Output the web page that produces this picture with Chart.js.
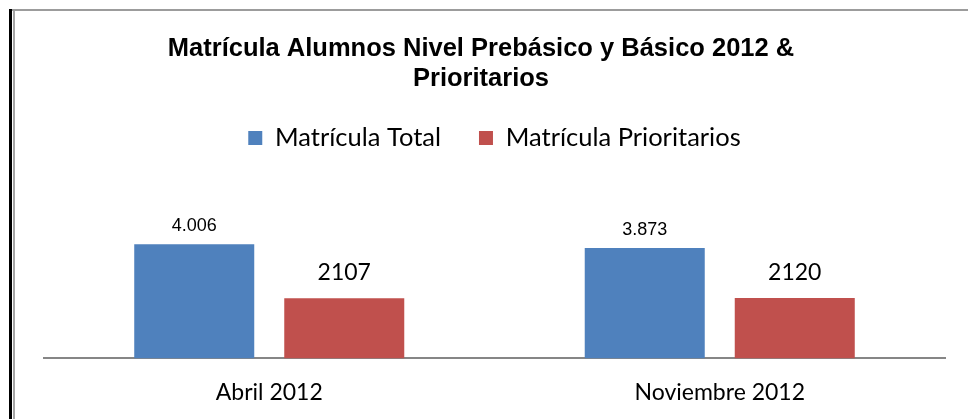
<!DOCTYPE html>
<html>
<head>
<meta charset="utf-8">
<script src="https://cdn.jsdelivr.net/npm/chart.js@4/dist/chart.umd.min.js"></script>
<style>
  html, body { margin: 0; padding: 0; background: #fff; }
  #wrap { position: relative; width: 968px; height: 419px; overflow: hidden; }
  #frameTop { position: absolute; left: 9px; top: 9px; right: 0; height: 2px; background: #9c9c9c; }
  #frameLeft { position: absolute; left: 9px; top: 9px; bottom: 0; width: 3px; background: #000; }
  #frameLeft2 { position: absolute; left: 13px; top: 11px; bottom: 0; width: 2px; background: #a6a6a6; }
</style>
</head>
<body>
<div id="wrap">
  <canvas id="chart" width="968" height="439"></canvas>
  <div id="frameTop"></div>
  <div id="frameLeft"></div>
  <div id="frameLeft2"></div>
</div>
<script>
const categories = ["Abril 2012", "Noviembre 2012"];
const totalValues = [4006, 3873];
const prioritariosValues = [2107, 2120];
const seriesNames = ["Matrícula Total", "Matrícula Prioritarios"];
const titleLines = ["Matrícula Alumnos Nivel Prebásico y Básico 2012 &", "Prioritarios"];

const bodyFont = "Lato";

// thousands with a dot, like the original sheet did for the first series
function withDots(v) {
    return String(v).replace(/\B(?=(\d{3})+(?!\d))/g, ".");
}

const labelStyles = [
    { font: "18px 'Liberation Sans'", gap: 9, fmt: withDots },
    { font: "23px " + bodyFont, gap: 14, fmt: v => String(v) }
];

const barLabels = {
    id: "barLabels",
    afterDatasetsDraw(chart) {
        const ctx = chart.ctx;
        ctx.save();
        ctx.fillStyle = "#000";
        ctx.textAlign = "center";
        ctx.textBaseline = "bottom";
        chart.data.datasets.forEach((ds, i) => {
            const st = labelStyles[i];
            ctx.font = st.font;
            chart.getDatasetMeta(i).data.forEach((bar, j) => {
                ctx.fillText(st.fmt(ds.data[j]), bar.x, bar.y - st.gap);
            });
        });
        ctx.restore();
    }
};

new Chart(document.getElementById("chart"), {
    type: "bar",
    data: {
        labels: categories,
        datasets: [{
            label: seriesNames[0],
            data: totalValues,
            backgroundColor: "#4F81BD",
            barPercentage: 0.8,
            categoryPercentage: 0.666
        }, {
            label: seriesNames[1],
            data: prioritariosValues,
            backgroundColor: "#C0504D",
            barPercentage: 0.8,
            categoryPercentage: 0.666
        }]
    },
    options: {
        responsive: false,
        animation: false,
        layout: { padding: { left: 17, right: 23, top: 34, bottom: 13 } },
        plugins: {
            title: {
                display: true,
                text: titleLines,
                color: "#000",
                font: { family: "'Liberation Sans'", size: 25.5, weight: "bold", lineHeight: 1.18 },
                padding: { top: 0, bottom: -7 }
            },
            legend: {
                fullSize: false,
                labels: {
                    color: "#000",
                    boxWidth: 14,
                    boxHeight: 14,
                    padding: 38,
                    font: { family: bodyFont, size: 25.5 }
                }
            },
            tooltip: { enabled: false }
        },
        scales: {
            x: {
                grid: { display: false, drawTicks: false },
                border: { color: "#868686", width: 2 },
                ticks: { color: "#000", padding: 20, font: { family: bodyFont, size: 23 } }
            },
            y: {
                min: 0,
                max: 6940,
                ticks: { display: false },
                grid: { display: false, drawTicks: false },
                border: { display: false },
                afterFit(scale) { scale.width = 27; }
            }
        }
    },
    plugins: [barLabels]
});
</script>
</body>
</html>
